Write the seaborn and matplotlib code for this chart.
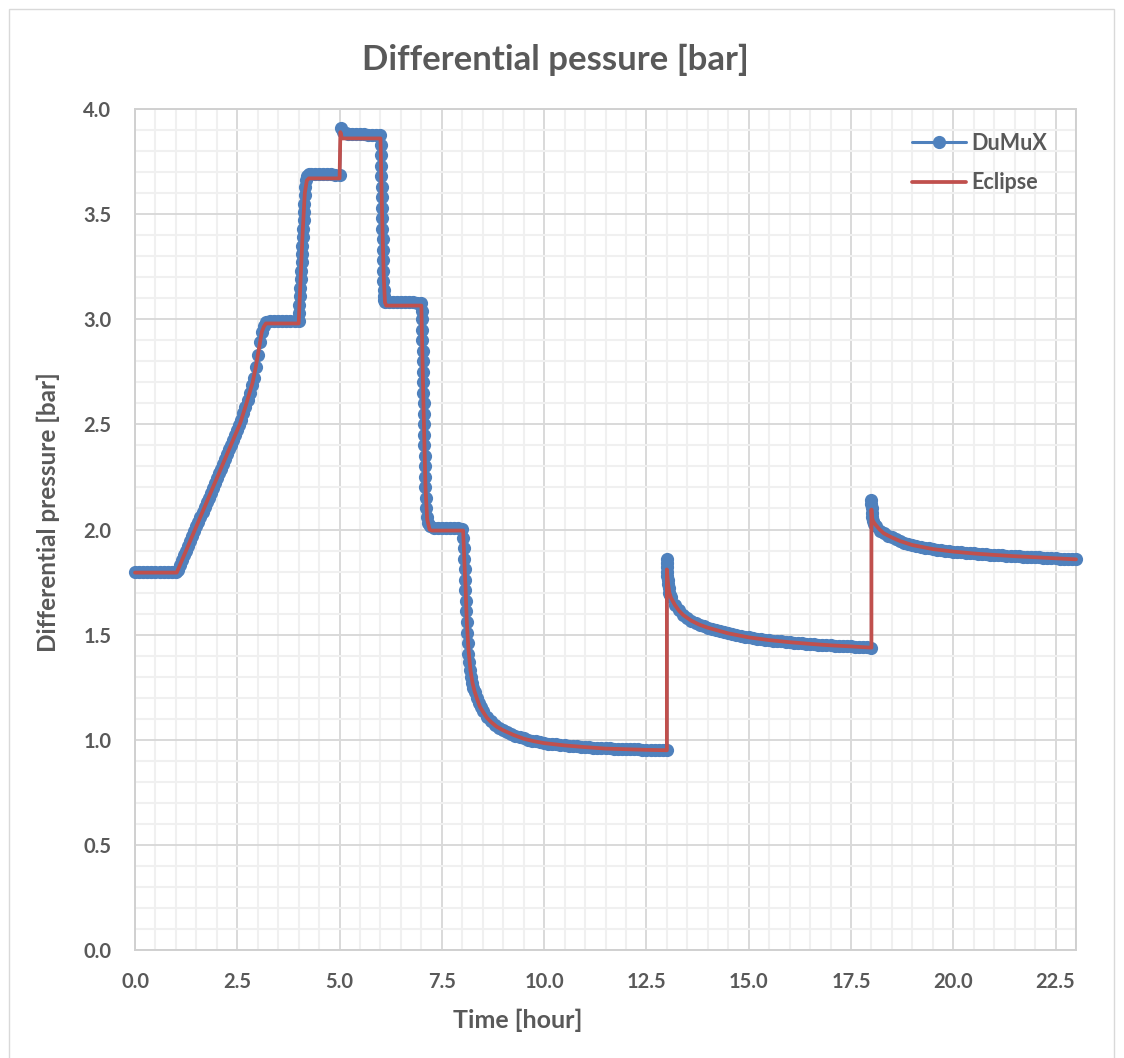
import matplotlib
matplotlib.use("Agg")
import matplotlib.pyplot as plt
from matplotlib.ticker import MultipleLocator, FixedLocator, FormatStrFormatter
from matplotlib.patches import Rectangle
import numpy as np
import pandas as pd
import seaborn as sns

# ---------------- text ----------------
TITLE = "Differential pessure [bar]"
XLABEL = "Time [hour]"
YLABEL = "Differential pressure [bar]"
SERIES = ["DuMuX", "Eclipse"]
X_TICKS = [0.0, 2.5, 5.0, 7.5, 10.0, 12.5, 15.0, 17.5, 20.0, 22.5]
Y_TICKS = [0.0, 0.5, 1.0, 1.5, 2.0, 2.5, 3.0, 3.5, 4.0]

# ---------------- DuMuX (time [h], pressure [bar]) ----------------
dumux_t_ramp = [0.0, 0.1, 0.2, 0.3, 0.4, 0.5, 0.6, 0.7, 0.8, 0.9, 1.0,
                1.05, 1.1, 1.15, 1.2, 1.25, 1.3, 1.35, 1.4, 1.45, 1.5,
                1.55, 1.6, 1.65, 1.7, 1.75, 1.8, 1.85, 1.9, 1.95, 2.0,
                2.05, 2.1, 2.15, 2.2, 2.25, 2.3, 2.35, 2.4, 2.45, 2.5,
                2.55, 2.6, 2.65, 2.7, 2.75, 2.8, 2.85, 2.9, 2.95, 3.0,
                3.05, 3.1, 3.15,
                3.2, 3.3, 3.4, 3.5, 3.6, 3.7, 3.8, 3.9, 4.0]
dumux_p_ramp = [1.797, 1.797, 1.797, 1.797, 1.797, 1.797, 1.797, 1.797, 1.797, 1.797, 1.796,
                1.809, 1.83, 1.854, 1.877, 1.9, 1.923, 1.946, 1.969, 1.992, 2.015,
                2.038, 2.061, 2.084, 2.106, 2.129, 2.152, 2.175, 2.198, 2.221, 2.244,
                2.267, 2.29, 2.313, 2.336, 2.359, 2.381, 2.404, 2.427, 2.45, 2.473,
                2.497, 2.522, 2.553, 2.585, 2.617, 2.65, 2.685, 2.72, 2.775, 2.83,
                2.89, 2.94, 2.97,
                2.985, 2.99, 2.99, 2.99, 2.99, 2.99, 2.99, 2.99, 2.99]

dumux_t_peak = [4.01, 4.02, 4.03, 4.04, 4.05, 4.06, 4.07, 4.08, 4.09, 4.10,
                4.11, 4.12, 4.13, 4.14, 4.15, 4.16, 4.18, 4.21,
                4.25, 4.3, 4.4, 4.5, 4.6, 4.7, 4.8, 4.9, 5.0,
                5.03, 5.08, 5.15,
                5.2, 5.3, 5.4, 5.5, 5.6, 5.7, 5.8, 5.9, 6.0]
dumux_p_peak = [3.03, 3.07, 3.11, 3.15, 3.19, 3.23, 3.27, 3.31, 3.35, 3.39,
                3.43, 3.47, 3.51, 3.55, 3.59, 3.63, 3.66, 3.68,
                3.69, 3.69, 3.69, 3.69, 3.69, 3.69, 3.69, 3.688, 3.685,
                3.91, 3.89, 3.884,
                3.882, 3.88, 3.88, 3.88, 3.879, 3.878, 3.877, 3.876, 3.874]

dumux_t_steps = [6.005, 6.01, 6.015, 6.02, 6.025, 6.03, 6.035, 6.04, 6.045, 6.05,
                 6.055, 6.06, 6.065, 6.07, 6.075, 6.08, 6.09, 6.12,
                 6.2, 6.3, 6.4, 6.5, 6.6, 6.7, 6.8, 6.9, 7.0,
                 7.01, 7.015, 7.02, 7.025, 7.03, 7.035, 7.04, 7.045, 7.05, 7.055,
                 7.06, 7.065, 7.07, 7.075, 7.08, 7.085, 7.09, 7.1, 7.11, 7.12,
                 7.14, 7.17, 7.2,
                 7.3, 7.4, 7.5, 7.6, 7.7, 7.8, 7.9, 8.0]
dumux_p_steps = [3.83, 3.78, 3.73, 3.68, 3.63, 3.58, 3.53, 3.48, 3.43, 3.38,
                 3.33, 3.28, 3.23, 3.18, 3.14, 3.11, 3.09, 3.082,
                 3.08, 3.08, 3.08, 3.08, 3.08, 3.08, 3.08, 3.079, 3.075,
                 3.04, 3.0, 2.95, 2.90, 2.85, 2.80, 2.75, 2.70, 2.65, 2.60,
                 2.55, 2.50, 2.45, 2.40, 2.35, 2.30, 2.25, 2.20, 2.15, 2.10,
                 2.06, 2.03, 2.015,
                 2.008, 2.006, 2.005, 2.005, 2.005, 2.005, 2.005, 2.004]

dumux_t_decay1 = [8.02, 8.035, 8.045, 8.055, 8.065, 8.075, 8.085, 8.095, 8.105, 8.115,
                  8.13, 8.145, 8.165, 8.185, 8.21, 8.24, 8.27, 8.3, 8.35, 8.4, 8.45, 8.5,
                  8.6, 8.7, 8.8, 8.9, 9.0, 9.1, 9.2, 9.3, 9.4, 9.5, 9.6, 9.7, 9.8, 9.9, 10.0,
                  10.1, 10.2, 10.3, 10.4, 10.5, 10.6, 10.7, 10.8, 10.9, 11.0,
                  11.1, 11.2, 11.3, 11.4, 11.5, 11.6, 11.7, 11.8, 11.9, 12.0,
                  12.1, 12.2, 12.3, 12.4, 12.5, 12.6, 12.7, 12.8, 12.9, 13.0]
dumux_p_decay1 = [1.96, 1.91, 1.86, 1.81, 1.76, 1.71, 1.66, 1.61, 1.56, 1.51,
                  1.46, 1.41, 1.37, 1.33, 1.30, 1.27, 1.245, 1.225, 1.20, 1.175, 1.155, 1.138,
                  1.11, 1.088, 1.07, 1.056, 1.045, 1.036, 1.028, 1.02, 1.013, 1.007, 1.001, 0.996, 0.992, 0.988, 0.985,
                  0.982, 0.980, 0.978, 0.976, 0.974, 0.972, 0.970, 0.969, 0.967, 0.966,
                  0.965, 0.963, 0.962, 0.961, 0.960, 0.959, 0.958, 0.958, 0.957, 0.956,
                  0.955, 0.955, 0.954, 0.953, 0.953, 0.952, 0.952, 0.951, 0.951, 0.950]

dumux_t_decay2 = [13.0, 13.0, 13.005, 13.01, 13.015, 13.02, 13.03, 13.04, 13.055, 13.075,
                  13.1, 13.2, 13.3, 13.4, 13.5, 13.6, 13.7, 13.8, 13.9, 14.0,
                  14.1, 14.2, 14.3, 14.4, 14.5, 14.6, 14.7, 14.8, 14.9, 15.0,
                  15.1, 15.2, 15.3, 15.4, 15.5, 15.6, 15.7, 15.8, 15.9, 16.0,
                  16.1, 16.2, 16.3, 16.4, 16.5, 16.6, 16.7, 16.8, 16.9, 17.0,
                  17.1, 17.2, 17.3, 17.4, 17.5, 17.6, 17.7, 17.8, 17.9, 18.0]
dumux_p_decay2 = [1.86, 1.84, 1.82, 1.80, 1.78, 1.76, 1.74, 1.72, 1.70, 1.69,
                  1.678, 1.642, 1.615, 1.594, 1.578, 1.566, 1.555, 1.547, 1.540, 1.533,
                  1.527, 1.521, 1.516, 1.511, 1.506, 1.502, 1.498, 1.494, 1.490, 1.487,
                  1.484, 1.481, 1.479, 1.476, 1.474, 1.472, 1.470, 1.468, 1.466, 1.464,
                  1.462, 1.460, 1.459, 1.457, 1.456, 1.454, 1.453, 1.452, 1.450, 1.449,
                  1.448, 1.447, 1.446, 1.445, 1.444, 1.443, 1.442, 1.441, 1.440, 1.438]

dumux_t_decay3 = [18.0, 18.0, 18.005, 18.01, 18.02, 18.04, 18.07,
                  18.1, 18.2, 18.3, 18.4, 18.5, 18.6, 18.7, 18.8, 18.9, 19.0,
                  19.1, 19.2, 19.3, 19.4, 19.5, 19.6, 19.7, 19.8, 19.9, 20.0,
                  20.1, 20.2, 20.3, 20.4, 20.5, 20.6, 20.7, 20.8, 20.9, 21.0,
                  21.1, 21.2, 21.3, 21.4, 21.5, 21.6, 21.7, 21.8, 21.9, 22.0,
                  22.1, 22.2, 22.3, 22.4, 22.5, 22.6, 22.7, 22.8, 22.9, 23.0]
dumux_p_decay3 = [2.14, 2.12, 2.10, 2.08, 2.06, 2.04, 2.025,
                  2.015, 1.995, 1.982, 1.971, 1.962, 1.953, 1.945, 1.938, 1.932, 1.926,
                  1.921, 1.917, 1.913, 1.910, 1.907, 1.904, 1.901, 1.899, 1.897, 1.895,
                  1.893, 1.891, 1.889, 1.888, 1.886, 1.885, 1.883, 1.882, 1.880, 1.879,
                  1.878, 1.877, 1.875, 1.874, 1.873, 1.872, 1.871, 1.870, 1.869, 1.868,
                  1.867, 1.866, 1.865, 1.864, 1.863, 1.862, 1.861, 1.860, 1.859, 1.858]

# ---------------- Eclipse (time [h], pressure [bar]) ----------------
eclipse_t = [0.0, 1.02, 1.5, 2.0, 2.57, 2.7, 2.8, 2.87, 2.95, 3.02, 3.1, 3.15, 3.2,
             4.0, 4.05, 4.1, 4.15, 4.2, 4.25, 5.0, 5.02, 5.06, 6.0, 6.04, 6.08, 6.11, 6.14,
             7.0, 7.05, 7.1, 7.14, 7.2, 7.25, 8.02, 8.05, 8.08, 8.11, 8.15, 8.2, 8.25,
             8.3, 8.35, 8.43, 8.5, 8.6, 8.7, 8.84, 9.0, 9.25, 9.5, 9.75, 10.0, 10.5,
             11.0, 11.5, 12.0, 12.5, 13.0, 13.0, 13.03, 13.06, 13.1, 13.2, 13.3, 13.4,
             13.6, 13.8, 14.0, 14.5, 15.0, 15.5, 16.0, 16.5, 17.0, 17.5, 18.0, 18.0,
             18.01, 18.04, 18.09, 18.2, 18.3, 18.5, 18.7, 19.0, 19.5, 20.0, 20.5, 21.0,
             21.5, 22.0, 22.5, 23.0]
eclipse_p = [1.795, 1.795, 2.015, 2.244, 2.505, 2.585, 2.65, 2.695, 2.77, 2.85, 2.94, 2.965, 2.98,
             2.98, 3.2, 3.42, 3.6, 3.66, 3.67, 3.67, 3.89, 3.86, 3.86, 3.5, 3.2, 3.08, 3.065,
             3.065, 2.6, 2.2, 2.05, 2.0, 1.995, 1.995, 1.85, 1.72, 1.56, 1.43, 1.33, 1.27,
             1.23, 1.20, 1.157, 1.135, 1.105, 1.085, 1.062, 1.045, 1.023, 1.005, 0.993, 0.984, 0.973,
             0.965, 0.958, 0.955, 0.952, 0.950, 1.81, 1.74, 1.70, 1.675, 1.64, 1.613, 1.593,
             1.566, 1.547, 1.533, 1.506, 1.487, 1.474, 1.464, 1.456, 1.449, 1.444, 1.438, 2.095,
             2.06, 2.04, 2.025, 2.0, 1.982, 1.962, 1.945, 1.926, 1.907, 1.895, 1.886, 1.879,
             1.873, 1.868, 1.863, 1.858]

# ---------------- tables ----------------
dumux = pd.DataFrame({
    "time": dumux_t_ramp + dumux_t_peak + dumux_t_steps + dumux_t_decay1 + dumux_t_decay2 + dumux_t_decay3,
    "pressure": dumux_p_ramp + dumux_p_peak + dumux_p_steps + dumux_p_decay1 + dumux_p_decay2 + dumux_p_decay3,
})
eclipse = pd.DataFrame({"time": eclipse_t, "pressure": eclipse_p})

# ---------------- style ----------------
sns.set_theme(style="white")
plt.rcParams["font.family"] = ["Lato", "DejaVu Sans"]
plt.rcParams["font.weight"] = "bold"
TXT = "#595959"
BLUE = "#4f81bd"
RED = "#c0504d"

W, H = 1124, 1058
fig = plt.figure(figsize=(W / 100, H / 100), dpi=100)
ax = fig.add_axes([135 / W, 1 - 950 / H, (1076 - 135) / W, (950 - 109) / H])

sns.lineplot(data=dumux, x="time", y="pressure", ax=ax, estimator=None, sort=False,
             color=BLUE, linewidth=2.2, marker="o", markersize=9.5, markeredgewidth=0,
             label=SERIES[0], clip_on=False, zorder=3)
sns.lineplot(data=eclipse, x="time", y="pressure", ax=ax, estimator=None, sort=False,
             color=RED, linewidth=2.7, label=SERIES[1], clip_on=False, zorder=4)
ax.lines[0].set_markersize(9.5)
ax.lines[0].set_markeredgewidth(0)

ax.set_xlim(0, 23)
ax.set_ylim(0, 4)
ax.xaxis.set_major_locator(FixedLocator(X_TICKS))
ax.yaxis.set_major_locator(FixedLocator(Y_TICKS))
ax.xaxis.set_minor_locator(MultipleLocator(0.5))
ax.yaxis.set_minor_locator(MultipleLocator(0.1))
ax.xaxis.set_major_formatter(FormatStrFormatter("%.1f"))
ax.yaxis.set_major_formatter(FormatStrFormatter("%.1f"))

ax.grid(which="minor", color="#f0f0f0", linewidth=1.5, zorder=0)
ax.grid(which="major", color="#d9d9d9", linewidth=1.4, zorder=1)
ax.set_axisbelow(True)
for s in ax.spines.values():
    s.set_color("#d0d0d0")
    s.set_linewidth(1.4)

ax.tick_params(which="both", length=0)
ax.tick_params(axis="x", pad=16, labelsize=14.5, labelcolor=TXT)
ax.tick_params(axis="y", pad=17, labelsize=14.5, labelcolor=TXT)
for lab in ax.get_xticklabels() + ax.get_yticklabels():
    lab.set_fontweight("bold")

ax.set_xlabel(XLABEL, fontsize=18, fontweight="bold", color=TXT)
ax.set_ylabel(YLABEL, fontsize=17.5, fontweight="bold", color=TXT)
ax.xaxis.set_label_coords((518 - 135) / 941, -(1020 - 950) / 841)
ax.xaxis.label.set_va("center")
ax.yaxis.set_label_coords((48 - 135) / 941, (950 - 512) / 841)
ax.yaxis.label.set_va("center")

fig.text(555 / W, 1 - 60 / H, TITLE, ha="center", va="center",
         fontsize=25, fontweight="bold", color=TXT)

leg = ax.legend(loc="center left", bbox_to_anchor=(912 / W, 1 - 163 / H),
                bbox_transform=fig.transFigure, frameon=False, fontsize=15.5,
                handlelength=2.5, handletextpad=0.25, labelspacing=0.85, borderpad=0,
                borderaxespad=0)
for t in leg.get_texts():
    t.set_color(TXT)
    t.set_fontweight("bold")

fig.add_artist(Rectangle((9 / W, -0.01), (1114 - 9) / W, 1 - 9 / H + 0.01,
                         transform=fig.transFigure, fill=False,
                         edgecolor="#d9d9d9", linewidth=1.0))

fig.savefig("out.png", dpi=100, facecolor="white")
